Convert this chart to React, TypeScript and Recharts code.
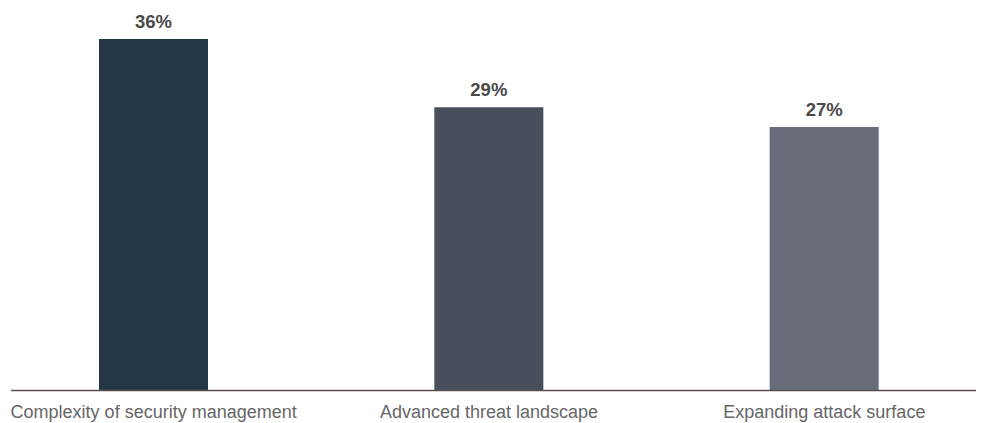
import { Bar, BarChart, Cell, LabelList, XAxis, YAxis } from "recharts";

const categories = [
  "Complexity of security management",
  "Advanced threat landscape",
  "Expanding attack surface",
];
const shares = [36, 29, 27];
const barColors = ["#243746", "#464f5b", "#686c79"];

const data = categories.map((name, i) => ({ name, value: shares[i] }));

const FONT = "'Liberation Sans', Arial, Helvetica, sans-serif";

function pct(v: number): string {
  return `${v}%`;
}

// Top challenges bar chart, value labels above each bar
export default function App() {
  return (
    <div style={{ width: 976, height: 415, fontFamily: FONT }}>
      <BarChart
        width={976}
        height={415}
        data={data}
        margin={{ top: 31, right: 0, bottom: 0, left: 3 }}
        barSize={109}
      >
        <XAxis
          dataKey="name"
          height={32.5}
          interval={0}
          tickLine={false}
          tickMargin={9}
          padding={{ left: -25, right: -8 }}
          axisLine={{ stroke: "#57504d", strokeWidth: 1.4 }}
          tick={{ fill: "#666666", fontSize: 18, fontFamily: FONT }}
        />
        <YAxis hide domain={[0, 36]} allowDataOverflow />
        <Bar dataKey="value" isAnimationActive={false}>
          {data.map((d, i) => (
            <Cell key={d.name} fill={barColors[i]} />
          ))}
          <LabelList
            dataKey="value"
            position="top"
            offset={11}
            formatter={pct}
            style={{ fill: "#4a4a4a", fontSize: 18.5, fontWeight: 700, fontFamily: FONT }}
          />
        </Bar>
      </BarChart>
    </div>
  );
}
